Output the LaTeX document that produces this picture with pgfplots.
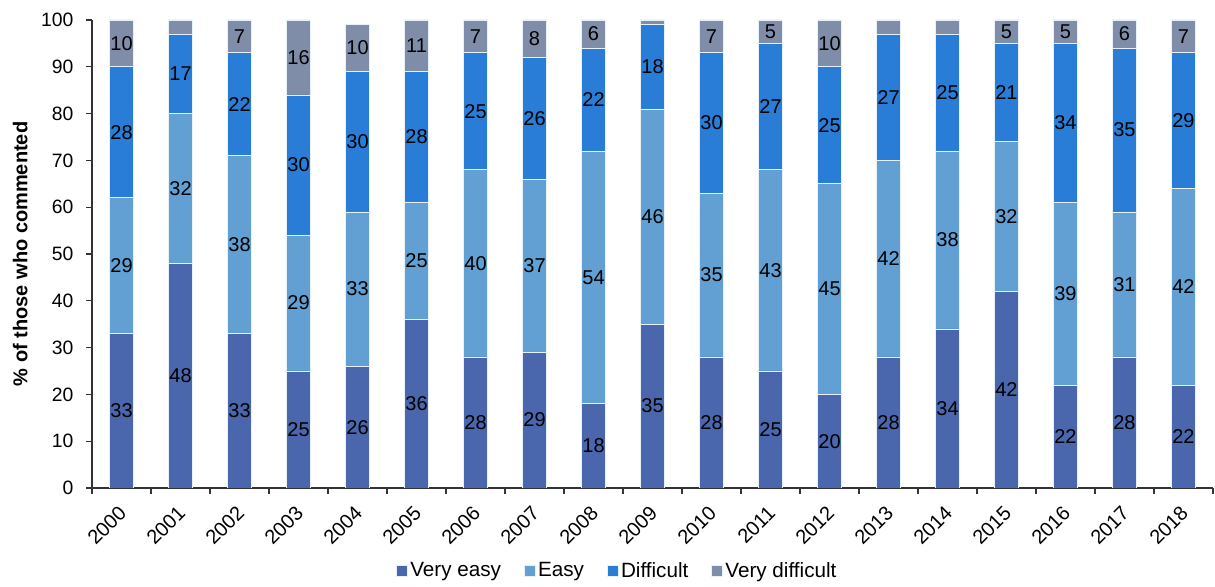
\documentclass[border=0pt]{standalone}
\usepackage{fontspec}
\setmainfont{Liberation Sans}
\usepackage{pgfplots}
\usepackage{pgfplotstable}
\pgfplotsset{compat=1.18}
\definecolor{cVE}{HTML}{4A66AC}
\definecolor{cE}{HTML}{629FD2}
\definecolor{cD}{HTML}{2A7DD6}
\definecolor{cVD}{HTML}{7F8DA9}

\pgfplotstableread{
x year ve e d vd
0 2000 33 29 28 10
1 2001 48 32 17 3
2 2002 33 38 22 7
3 2003 25 29 30 16
4 2004 26 33 30 10
5 2005 36 25 28 11
6 2006 28 40 25 7
7 2007 29 37 26 8
8 2008 18 54 22 6
9 2009 35 46 18 1
10 2010 28 35 30 7
11 2011 25 43 27 5
12 2012 20 45 25 10
13 2013 28 42 27 3
14 2014 34 38 25 3
15 2015 42 32 21 5
16 2016 22 39 34 5
17 2017 28 31 35 6
18 2018 22 42 29 7
}\data

\pgfplotsset{
  lbl/.style={
    visualization depends on={\thisrow{#1} \as \rawv},
    nodes near coords={\pgfmathparse{\rawv<4 ? 0 : 1}\ifnum\pgfmathresult>0 \pgfmathprintnumber[fixed,precision=0]{\rawv}\fi},
    every node near coord/.append style={
      text=black, inner sep=0pt,
      font=\fontsize{15}{15}\selectfont}
  }
}

\begin{document}
\begin{tikzpicture}
\begin{axis}[
  scale only axis,
  width=840.75pt, height=351pt,
  ybar stacked, bar width=0.4,
  xmin=-0.5, xmax=18.5, ymin=0, ymax=100,
  xtick={0,...,18},
  xticklabels={2000,2001,2002,2003,2004,2005,2006,2007,2008,2009,2010,2011,2012,2013,2014,2015,2016,2017,2018},
  minor xtick={-0.5,0.5,...,18.5},
  major x tick style={draw=none},
  ytick={0,10,...,100},
  tick align=outside,
  major tick length=4.5pt, minor tick length=4.5pt,
  tick style={black!80, line width=0.9pt},
  axis x line*=bottom, axis y line*=left,
  axis line style={black!80, line width=0.9pt, -},
  x tick label style={xshift=-3pt, yshift=-3pt, rotate=45, anchor=north east, font=\fontsize{15}{15}\selectfont},
  y tick label style={font=\fontsize{14.5}{14.5}\selectfont, xshift=-6pt},
  /pgf/number format/assume math mode=true,
  ylabel={\bfseries\% of those who commented},
  every axis y label/.style={at={(rel axis cs:-0.064,0.5)}, rotate=90, anchor=center, font=\fontsize{15}{15}\selectfont},
  legend columns=4,
  legend style={at={(rel axis cs:0.4688,-0.177)}, anchor=center, draw=none,
    font=\fontsize{15.5}{15.5}\selectfont,
    /tikz/every even column/.append style={column sep=15pt}},
  legend image code/.code={\fill[#1] (0pt,-4pt) rectangle (8.25pt,4.25pt);},
  every axis plot/.append style={draw=white!85!cE, line width=0.5pt},
]
\addplot[fill=cVE, lbl=ve] table[x=x, y=ve] {\data};
\addplot[fill=cE, lbl=e] table[x=x, y=e] {\data};
\addplot[fill=cD, lbl=d] table[x=x, y=d] {\data};
\addplot[fill=cVD, lbl=vd] table[x=x, y=vd] {\data};
\legend{Very easy, Easy, Difficult, Very difficult}
\coordinate (bl) at (rel axis cs:-0.0821,-0.2115);
\coordinate (tr) at (rel axis cs:1.0018,1.0427);
\end{axis}
\pgfresetboundingbox
\path[use as bounding box] (bl) rectangle (tr);
\end{tikzpicture}
\end{document}
